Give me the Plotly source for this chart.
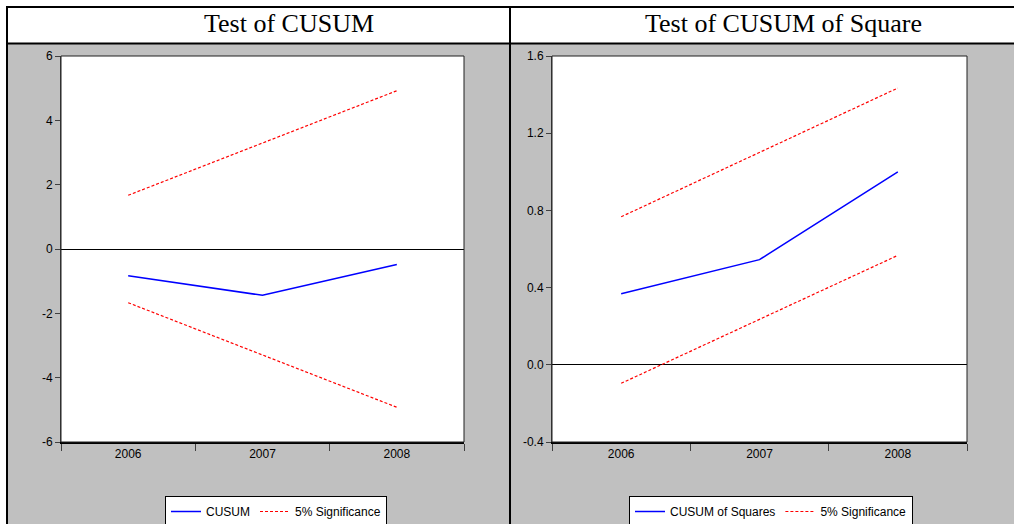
import plotly.graph_objects as go

# ---------------- data ----------------
years = ["2006", "2007", "2008"]

cusum = [-0.83, -1.44, -0.48]
cusum_upper = [1.67, 3.29, 4.92]
cusum_lower = [-1.67, -3.29, -4.92]

cusumsq = [0.368, 0.545, 1.0]
sq_upper = [0.767, 1.100, 1.434]
sq_lower = [-0.096, 0.237, 0.567]

left_title = "Test of CUSUM"
right_title = "Test of CUSUM of Square"

left_yticks = [-6, -4, -2, 0, 2, 4, 6]
left_ylabels = ["-6", "-4", "-2", "0", "2", "4", "6"]
right_yticks = [-0.4, 0.0, 0.4, 0.8, 1.2, 1.6]
right_ylabels = ["-0.4", "0.0", "0.4", "0.8", "1.2", "1.6"]

# ---------------- layout helpers ----------------
W, H = 1014, 524
def px(x):
    return x / W
def py(y):
    return 1 - y / H

SANS = "Liberation Sans, Arial, sans-serif"
SERIF = "Liberation Serif, Times New Roman, serif"
BLUE = "#0000ff"
RED = "#ff0000"
GRAY = "#c0c0c0"

fig = go.Figure()

sig_line = dict(color=RED, width=1.2, dash="3px,2px")

# left panel traces
fig.add_trace(go.Scatter(x=years, y=cusum, mode="lines", name="CUSUM",
                         line=dict(color=BLUE, width=1.5), xaxis="x", yaxis="y",
                         legend="legend"))
fig.add_trace(go.Scatter(x=years, y=cusum_upper, mode="lines", name="5% Significance",
                         line=sig_line, xaxis="x", yaxis="y", legend="legend"))
fig.add_trace(go.Scatter(x=years, y=cusum_lower, mode="lines", name="5% Significance",
                         line=sig_line, xaxis="x", yaxis="y", showlegend=False))

# right panel traces
fig.add_trace(go.Scatter(x=years, y=cusumsq, mode="lines", name="CUSUM of Squares",
                         line=dict(color=BLUE, width=1.5), xaxis="x2", yaxis="y2",
                         legend="legend2"))
fig.add_trace(go.Scatter(x=years, y=sq_upper, mode="lines", name="5% Significance",
                         line=sig_line, xaxis="x2", yaxis="y2", legend="legend2"))
fig.add_trace(go.Scatter(x=years, y=sq_lower, mode="lines", name="5% Significance",
                         line=sig_line, xaxis="x2", yaxis="y2", showlegend=False))

ydom = [py(442), py(56)]
xcommon = dict(type="category", tickson="boundaries", ticks="outside", ticklen=7,
               tickcolor="#404040", tickwidth=1, showline=True, linecolor="black",
               linewidth=2, showgrid=False, zeroline=False,
               tickfont=dict(family=SANS, size=12, color="black"), fixedrange=True)
ycommon = dict(ticks="outside", ticklen=5, tickcolor="#404040", tickwidth=1,
               showline=True, linecolor="#404040", linewidth=1, showgrid=False,
               zeroline=True, zerolinecolor="black", zerolinewidth=1,
               tickfont=dict(family=SANS, size=12, color="black"), fixedrange=True)

legcommon = dict(orientation="h", bgcolor="white", bordercolor="black", borderwidth=1,
                 font=dict(family=SANS, size=12, color="black"),
                 xanchor="left", yanchor="top", itemwidth=30, tracegroupgap=0)

fig.update_layout(
    width=W, height=H, margin=dict(l=0, r=0, t=0, b=0, autoexpand=False),
    paper_bgcolor=GRAY, plot_bgcolor="white",
    xaxis=dict(domain=[px(61), px(464)], anchor="y", range=[-0.5, 2.5], **xcommon),
    yaxis=dict(domain=ydom, anchor="x", range=[-6, 6], tickvals=left_yticks,
               ticktext=left_ylabels, **ycommon),
    xaxis2=dict(domain=[px(552), px(967)], anchor="y2", range=[-0.5, 2.5], **xcommon),
    yaxis2=dict(domain=ydom, anchor="x2", range=[-0.4, 1.6], tickvals=right_yticks,
                ticktext=right_ylabels, **ycommon),
    legend=dict(x=px(165), y=py(496), **legcommon),
    legend2=dict(x=px(629), y=py(496), **legcommon),
    shapes=[
        # white page area outside the table (top strip, left strip) and header row
        dict(type="rect", xref="paper", yref="paper", x0=0, x1=1.0, y0=py(43.5), y1=1.0,
             fillcolor="white", line=dict(width=0), layer="below"),
        dict(type="rect", xref="paper", yref="paper", x0=0, x1=px(6), y0=0, y1=1.0,
             fillcolor="white", line=dict(width=0), layer="below"),
        # plot frames (thin top/right)
        dict(type="rect", xref="x domain", yref="y domain", x0=0, x1=1, y0=0, y1=1,
             line=dict(color="#202020", width=1), layer="above"),
        dict(type="rect", xref="x2 domain", yref="y2 domain", x0=0, x1=1, y0=0, y1=1,
             line=dict(color="#202020", width=1), layer="above"),
        # table lines
        dict(type="line", xref="paper", yref="paper", x0=px(6), x1=1.0, y0=py(7), y1=py(7),
             line=dict(color="black", width=2)),
        dict(type="line", xref="paper", yref="paper", x0=px(6), x1=1.0, y0=py(43.5), y1=py(43.5),
             line=dict(color="black", width=2)),
        dict(type="line", xref="paper", yref="paper", x0=px(7), x1=px(7), y0=0, y1=py(6),
             line=dict(color="black", width=2)),
        dict(type="line", xref="paper", yref="paper", x0=px(510), x1=px(510), y0=0, y1=py(6),
             line=dict(color="black", width=2)),
    ],
    annotations=[
        dict(text=left_title, xref="paper", yref="paper", x=px(289), y=py(24),
             xanchor="center", yanchor="middle", showarrow=False,
             font=dict(family=SERIF, size=26, color="black")),
        dict(text=right_title, xref="paper", yref="paper", x=px(783), y=py(24),
             xanchor="center", yanchor="middle", showarrow=False,
             font=dict(family=SERIF, size=26, color="black")),
    ],
)

fig.write_html(
    "out.html",
    config={"displayModeBar": False, "responsive": False},
    post_script=(
        "document.documentElement.style.margin='0';"
        "document.body.style.margin='0';"
        "document.body.style.overflow='hidden';"
        "document.documentElement.style.overflow='hidden';"
        "var d=document.getElementById('{plot_id}');"
        "d.style.position='fixed';d.style.left='0px';d.style.top='0px';"
    ),
)
